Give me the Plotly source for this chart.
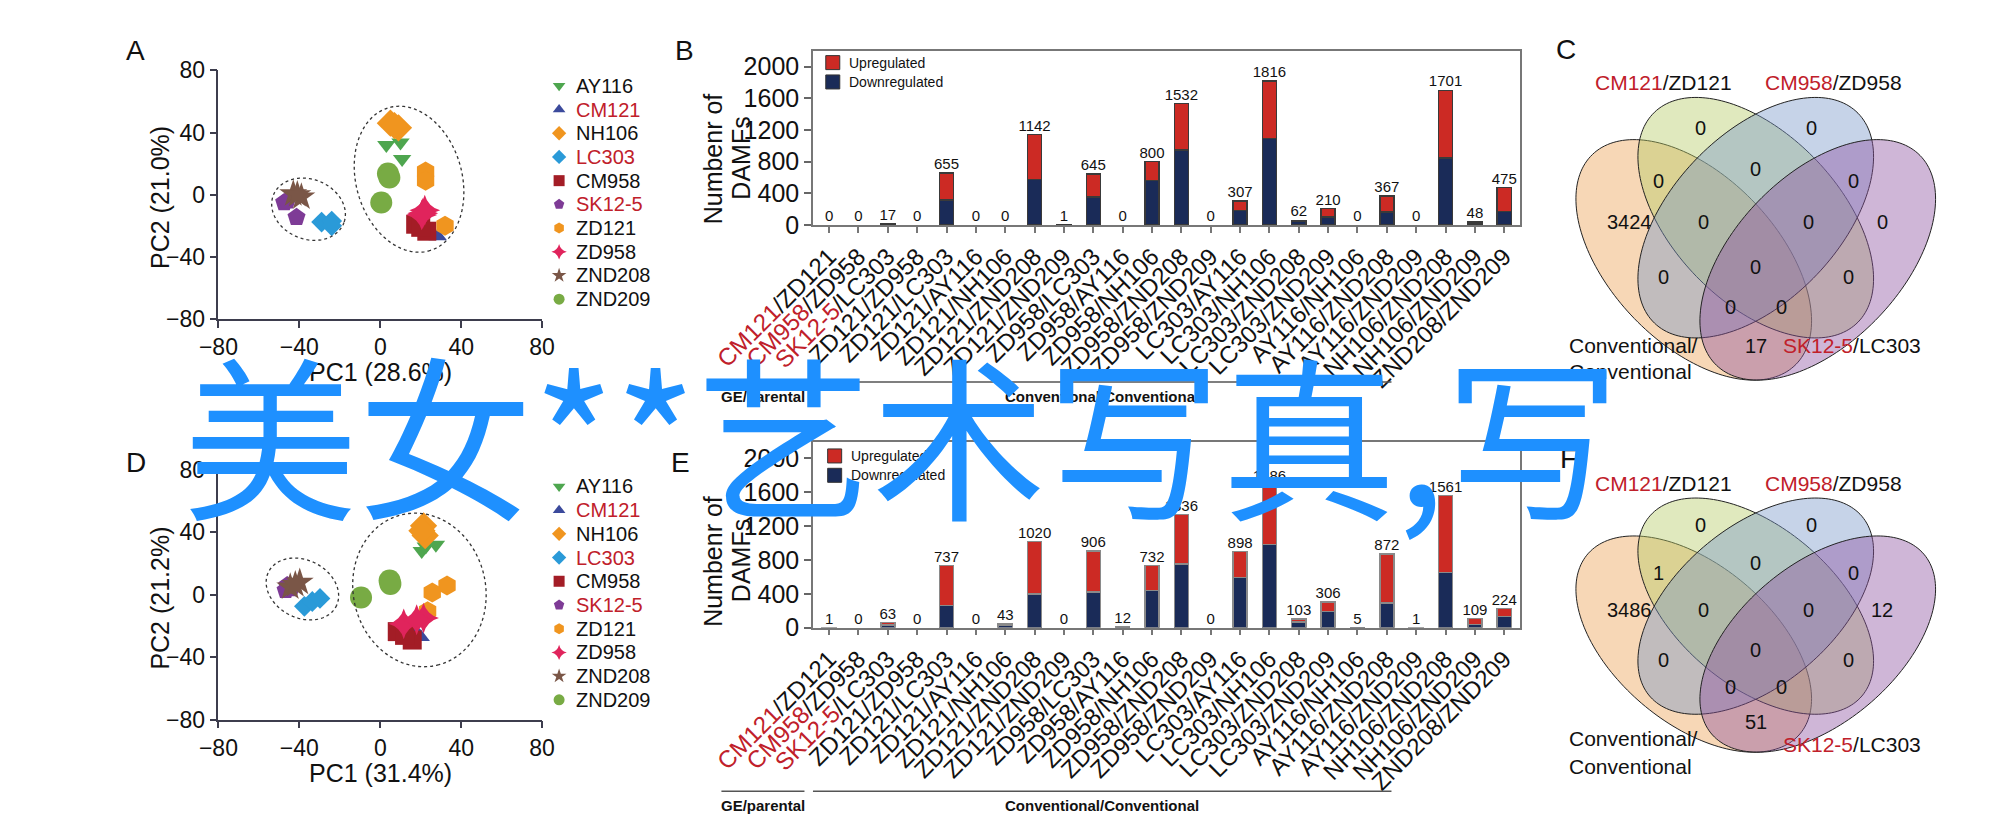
import numpy as np
import plotly.graph_objects as go

W, H = 2008, 834

# ---------------- data ----------------
groups = ["AY116", "CM121", "NH106", "LC303", "CM958", "SK12-5", "ZD121", "ZD958", "ZND208", "ZND209"]
group_red = [False, True, False, True, False, True, False, False, False, False]
group_colors = ["#4ea64f", "#3b4a9c", "#f0951f", "#2a9ad8", "#a31d26", "#7e3b96",
                "#f0951f", "#e0245c", "#7a5647", "#78ab44"]
group_symbols = ["triangle-down", "triangle-up", "diamond", "diamond", "square", "pentagon",
                 "hexagon", "star-diamond", "star", "circle"]
group_sizes = [16, 16, 21, 16, 19, 19, 20, 22, 21, 22]

pcaA_group = ["AY116"] * 3 + ["CM121"] * 3 + ["NH106"] * 3 + ["LC303"] * 3 + ["CM958"] * 3 + \
             ["SK12-5"] * 3 + ["ZD121"] * 3 + ["ZD958"] * 3 + ["ZND208"] * 3 + ["ZND209"] * 3
pcaA_pc1 = [3, 10, 10.8, 20, 24, 28.4, 5, 9, 7, -29, -24, -24, 17.5, 23, 20, -47.5, -41.4, -46,
            22.4, 22.4, 32, 22, 20.5, 21, -43, -39, -41, 3.8, 0.5, 4.5]
pcaA_pc2 = [32, 33.5, 23, -22, -25, -26.7, 46, 43, 44.5, -17.6, -17, -20, -19, -23.5, -21, -5, -14.5, -4,
            15, 9, -20, -10, -13, -12, 0.5, -1.5, 0, 13.6, -5, 11]

pcaD_group = pcaA_group
pcaD_pc1 = [20.5, 22.5, 27.5, 18.6, 16, 20, 21.4, 22.2, 20.6, -37.5, -33.6, -29.8, 8.4, 15.8, 12,
            -46, -46.8, -44, 33, 25.7, 23.4, 21.4, 11.6, 18, -39.8, -44.5, -42, 4.6, -9.5, 5]
pcaD_pc2 = [28, 31, 32, -25.4, -24, -27, 44.2, 38, 41, -7.4, -4.3, -2.3, -23.6, -29, -26,
            6, 2.9, 4, 6, 1.4, -10.5, -14.9, -18.6, -16, 8, 5, 6.5, 9.1, -1.7, 7]

pc_ticks = [-80, -40, 0, 40, 80]

comparisons = ["CM121/ZD121", "CM958/ZD958", "SK12-5/LC303", "ZD121/ZD958", "ZD121/LC303",
               "ZD121/AY116", "ZD121/NH106", "ZD121/ZND208", "ZD121/ZND209", "ZD958/LC303",
               "ZD958/AY116", "ZD958/NH106", "ZD958/ZND208", "ZD958/ZND209", "LC303/AY116",
               "LC303/NH106", "LC303/ZND208", "LC303/ZND209", "AY116/NH106", "AY116/ZND208",
               "AY116/ZND209", "NH106/ZND208", "NH106/ZND209", "ZND208/ZND209"]
red_parts = ["CM121", "CM958", "SK12-5"]

b_total = [0, 0, 17, 0, 655, 0, 0, 1142, 1, 645, 0, 800, 1532, 0, 307, 1816, 62, 210, 0, 367, 0, 1701, 48, 475]
b_down = [0, 0, 9, 0, 317, 0, 0, 573, 1, 358, 0, 561, 948, 0, 187, 1090, 45, 100, 0, 167, 0, 845, 25, 175]
b_up = [t - d for t, d in zip(b_total, b_down)]

e_total = [1, 0, 63, 0, 737, 0, 43, 1020, 0, 906, 12, 732, 1336, 0, 898, 1686, 103, 306, 5, 872, 1, 1561, 109, 224]
e_down = [1, 0, 30, 0, 263, 0, 25, 400, 0, 420, 8, 440, 750, 0, 590, 985, 70, 190, 3, 290, 1, 650, 40, 135]
e_up = [t - d for t, d in zip(e_total, e_down)]

bar_ticks = [0, 400, 800, 1200, 1600, 2000]

venn_regions = ["A", "B", "C", "D", "AB", "BC", "CD", "ABC", "BCD", "AC", "ABCD", "BD", "ACD", "ABD", "AD"]
venn_c_counts = [3424, 0, 0, 0, 0, 0, 0, 0, 0, 0, 0, 0, 0, 0, 17]
venn_f_counts = [3486, 0, 0, 12, 1, 0, 0, 0, 0, 0, 0, 0, 0, 0, 51]

RED_TXT = "#c0202a"
UP_COL = "#cc2a24"
DOWN_COL = "#1a2b58"
FONT = "Liberation Sans, Arial, sans-serif"


def xp(p):
    return p / W


def yp(p):
    return 1 - p / H


def red_label(s):
    for r in red_parts:
        if s.startswith(r + "/"):
            return '<span style="color:%s">%s</span>%s' % (RED_TXT, r, s[len(r):])
    return s


def ellipse_path(cx, cy, a, b, phi_deg, n=160):
    phi = np.radians(phi_deg)
    t = np.linspace(0, 2 * np.pi, n)
    px = cx + a * np.cos(t) * np.cos(phi) - b * np.sin(t) * np.sin(phi)
    py = cy + a * np.cos(t) * np.sin(phi) + b * np.sin(t) * np.cos(phi)
    pts = ["%.5f,%.5f" % (xp(x), yp(y)) for x, y in zip(px, py)]
    return "M" + " L".join(pts) + " Z"


fig = go.Figure()

# ---------------- PCA panels ----------------
for grp_list, xs, ys, xa, ya in [(pcaA_group, pcaA_pc1, pcaA_pc2, "x", "y"),
                                 (pcaD_group, pcaD_pc1, pcaD_pc2, "x2", "y2")]:
    for gi, g in enumerate(groups):
        idx = [i for i, v in enumerate(grp_list) if v == g]
        fig.add_trace(go.Scatter(
            x=[xs[i] for i in idx], y=[ys[i] for i in idx], mode="markers",
            marker=dict(symbol=group_symbols[gi], color=group_colors[gi], size=group_sizes[gi],
                        line=dict(width=0)),
            xaxis=xa, yaxis=ya, showlegend=False, cliponaxis=False))

# ---------------- Bar panels ----------------
for tot, dn, up, xa, ya, lc in [(b_total, b_down, b_up, "x3", "y3", "#3a3a3a"),
                                (e_total, e_down, e_up, "x4", "y4", "#8a8a8a")]:
    fig.add_trace(go.Bar(x=comparisons, y=[v if v > 0 else None for v in dn], width=0.48,
                         marker=dict(color=DOWN_COL, line=dict(color=lc, width=1.5)),
                         xaxis=xa, yaxis=ya, showlegend=False))
    fig.add_trace(go.Bar(x=comparisons, y=[v if v > 0 else None for v in up], width=0.48,
                         marker=dict(color=UP_COL, line=dict(color=lc, width=1.5)),
                         xaxis=xa, yaxis=ya, showlegend=False))
    fig.add_trace(go.Scatter(x=comparisons, y=tot, mode="text", text=[str(v) for v in tot],
                             textposition="top center", textfont=dict(size=15, color="#111", family=FONT),
                             xaxis=xa, yaxis=ya, showlegend=False, cliponaxis=False))

# ---------------- legends (pixel overlay axis) ----------------
for top in [67, 481]:
    fig.add_trace(go.Scatter(
        x=[478] * len(groups), y=[top + 24.5 * i for i in range(len(groups))], mode="markers",
        marker=dict(symbol=group_symbols, color=group_colors, size=11, line=dict(width=0)),
        xaxis="x5", yaxis="y5", showlegend=False))
for (lx, ly) in [(768, 43), (770, 449.5)]:
    fig.add_trace(go.Scatter(
        x=[lx, lx], y=[ly, ly + 20], mode="markers",
        marker=dict(symbol="square", color=[UP_COL, DOWN_COL], size=14, line=dict(color="#333", width=1)),
        xaxis="x5", yaxis="y5", showlegend=False))

annotations = []
shapes = []


def text(x, y, s, size, color="#111", xanchor="center", yanchor="middle", angle=0, bold=False, family=FONT):
    if bold:
        s = "<b>" + s + "</b>"
    annotations.append(dict(x=xp(x), y=yp(y), xref="paper", yref="paper", text=s, showarrow=False,
                            xanchor=xanchor, yanchor=yanchor, textangle=angle,
                            font=dict(size=size, color=color, family=family)))


for top in [67, 481]:
    for i, g in enumerate(groups):
        text(494, top + 24.5 * i, g, 20, RED_TXT if group_red[i] else "#111", xanchor="left")

for (lx, ly) in [(783, 43), (785, 449.5)]:
    text(lx, ly, "Upregulated", 14, xanchor="left")
    text(lx, ly + 20, "Downregulated", 14, xanchor="left")

# panel letters
for lab, x, y in [("A", 29, 30), ("B", 611, 30), ("C", 1545, 29), ("D", 30, 456), ("E", 607, 456), ("F", 1548, 452)]:
    text(x, y, lab, 28)

# axis titles
text(289, 363, "PC1 (28.6%)", 25)
text(55, 182, "PC2 (21.0%)", 25, angle=-90)
text(289, 777, "PC1 (31.4%)", 25)
text(55, 596, "PC2 (21.2%)", 25, angle=-90)
for off in [0, 416]:
    text(641, 142 + off, "Numbenr of", 25, angle=-90)
    text(671, 142 + off, "DAMFs", 25, angle=-90)

# group brackets under bars
for ly in [373, 796]:
    shapes.append(dict(type="line", xref="paper", yref="paper", x0=xp(650), x1=xp(738), y0=yp(ly), y1=yp(ly),
                       line=dict(color="#555", width=1.5)))
    shapes.append(dict(type="line", xref="paper", yref="paper", x0=xp(747), x1=xp(1360), y0=yp(ly), y1=yp(ly),
                       line=dict(color="#555", width=1.5)))
    text(694, ly + 15, "GE/parental", 15, bold=True)
    text(1053, ly + 15, "Conventional/Conventional", 15, bold=True)

# cluster ellipses
for cx, cy, a, b, phi in [(319, 163.5, 77, 56, 73), (212.5, 194.5, 40, 31, 20),
                          (330, 588, 80, 70, 75), (206, 587, 40, 30, 25)]:
    shapes.append(dict(type="path", xref="paper", yref="paper", path=ellipse_path(cx, cy, a, b, phi),
                       line=dict(color="#333", width=1.3, dash="dot")))

# ---------------- Venn diagrams ----------------
venn_ellipses = [((0.35, 0.47), -45, "rgba(236,160,80,0.42)"),
                 ((0.50, 0.57), -45, "rgba(180,202,100,0.42)"),
                 ((0.50, 0.57), 45, "rgba(120,150,200,0.42)"),
                 ((0.65, 0.47), 45, "rgba(140,80,160,0.42)")]
venn_offsets = {"A": (-130, 132), "B": (-57, 32), "C": (57, 32), "D": (130, 132), "AB": (-100, 88),
                "BC": (0, 76), "CD": (100, 88), "ABC": (-54, 132), "BCD": (54, 132), "AC": (-95, 190),
                "ABCD": (0, 179), "BD": (95, 190), "ACD": (-26, 222), "ABD": (26, 222), "AD": (0, 263)}
VCX, SX = 1746, 438
for top, sy, counts, lab_y in [(79, 436, venn_c_counts, (335, 362, 335)),
                               (493, 392, venn_f_counts, (742, 770, 748))]:
    for (ux, uy), phi, col in venn_ellipses:
        t = np.linspace(0, 2 * np.pi, 180)
        ph = np.radians(phi)
        u = ux + 0.35 * np.cos(t) * np.cos(ph) - 0.20 * np.sin(t) * np.sin(ph)
        v = uy + 0.35 * np.cos(t) * np.sin(ph) + 0.20 * np.sin(t) * np.cos(ph)
        px = VCX + (u - 0.5) * SX
        py = top + (0.855 - v) * sy
        path = "M" + " L".join("%.5f,%.5f" % (xp(a), yp(b)) for a, b in zip(px, py)) + " Z"
        shapes.append(dict(type="path", xref="paper", yref="paper", path=path, fillcolor=col,
                           line=dict(color="#222", width=1)))
    for reg, cnt in zip(venn_regions, counts):
        ox, oy = venn_offsets[reg]
        text(VCX + ox * SX / 425, top + oy * sy / 446, str(cnt), 20)
    text(1648, top - 15, '<span style="color:%s">CM121</span>/ZD121' % RED_TXT, 21)
    text(1828, top - 15, '<span style="color:%s">CM958</span>/ZD958' % RED_TXT, 21)
    text(1546, lab_y[0], "Conventional/", 21, xanchor="left")
    text(1546, lab_y[1], "Conventional", 21, xanchor="left")
    text(1773, lab_y[2], '<span style="color:%s">SK12-5</span>/LC303' % RED_TXT, 21, xanchor="left")

# watermark
text(77, 423, "美女**艺术写真,写", 175, color="#1e90ff", xanchor="left", family="Noto Sans CJK SC")

# ---------------- layout ----------------
pca_ax = dict(range=[-80, 80], tickvals=pc_ticks, ticks="outside", ticklen=7, tickwidth=1.5,
              showline=True, linewidth=1.5, linecolor="#3d3d4d", tickcolor="#3d3d4d",
              showgrid=False, zeroline=False, tickfont=dict(size=23, color="#111", family=FONT))
bar_x = dict(type="category", range=[-0.55, 23.53], tickvals=comparisons,
             ticktext=[red_label(c) for c in comparisons], tickangle=-45, ticks="outside", ticklen=6,
             tickwidth=1.5, tickcolor="#777", showline=True, mirror=True, linewidth=1.5, linecolor="#777",
             showgrid=False, zeroline=False, tickfont=dict(size=24, color="#111", family=FONT))
bar_y = dict(tickvals=bar_ticks, ticks="outside", ticklen=7, tickwidth=1.5, tickcolor="#666",
             showline=True, mirror=True, linewidth=1.5, linecolor="#777", showgrid=False, zeroline=False,
             tickfont=dict(size=25, color="#111", family=FONT))

fig.update_layout(
    width=W, height=H, autosize=False, margin=dict(l=0, r=0, t=0, b=0),
    paper_bgcolor="white", plot_bgcolor="rgba(0,0,0,0)", showlegend=False,
    barmode="stack", font=dict(family=FONT, color="#111"),
    xaxis=dict(domain=[xp(117), xp(460)], anchor="y", **pca_ax),
    yaxis=dict(domain=[yp(308), yp(51)], anchor="x", **pca_ax),
    xaxis2=dict(domain=[xp(117), xp(460)], anchor="y2", **pca_ax),
    yaxis2=dict(domain=[yp(722), yp(464)], anchor="x2", **pca_ax),
    xaxis3=dict(domain=[xp(747), xp(1496)], anchor="y3", **bar_x),
    yaxis3=dict(domain=[yp(211), yp(31)], anchor="x3", range=[0, 2196], **bar_y),
    xaxis4=dict(domain=[xp(747), xp(1496)], anchor="y4", **bar_x),
    yaxis4=dict(domain=[yp(627), yp(435)], anchor="x4", range=[0, 2194], **bar_y),
    xaxis5=dict(domain=[0, 1], anchor="y5", range=[0, W], visible=False),
    yaxis5=dict(domain=[0, 1], anchor="x5", range=[H, 0], visible=False),
    annotations=annotations, shapes=shapes,
)

fig.write_html("out.html")
